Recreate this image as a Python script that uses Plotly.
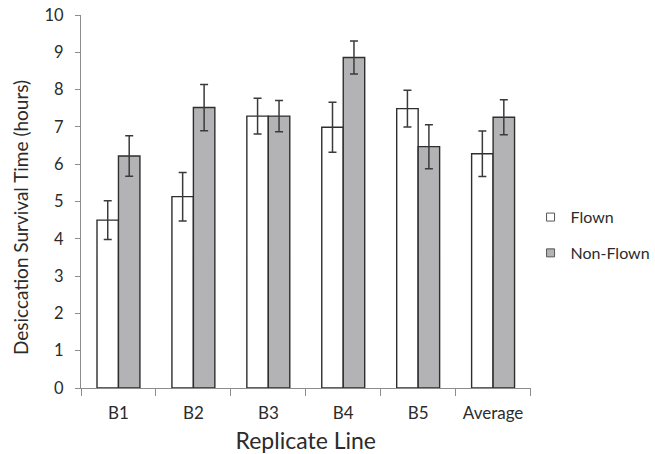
import plotly.graph_objects as go

# Replicate lines and mean desiccation survival time (hours) with error bars
categories = ["B1", "B2", "B3", "B4", "B5", "Average"]
flown = [4.50, 5.13, 7.29, 6.99, 7.49, 6.28]
flown_err = [0.52, 0.65, 0.48, 0.67, 0.49, 0.61]
non_flown = [6.22, 7.52, 7.29, 8.86, 6.47, 7.26]
non_flown_err = [0.54, 0.62, 0.42, 0.44, 0.59, 0.47]
y_ticks = list(range(0, 11))

FONT = "Lato, 'Open Sans', sans-serif"
TEXT = "#2b2b2b"
AXIS = "#8c8c8c"
EDGE = "#2e2e2e"
FLOWN_FILL = "white"
NONFLOWN_FILL = "#b3b3b5"

err_style = dict(type="data", thickness=1.5, width=4, color="#3a3a3a")

fig = go.Figure()
fig.add_trace(go.Bar(
    x=categories, y=flown, name="Flown", showlegend=False,
    marker=dict(color=FLOWN_FILL, line=dict(color=EDGE, width=1.4)),
    error_y=dict(array=flown_err, **err_style),
))
fig.add_trace(go.Bar(
    x=categories, y=non_flown, name="Non-Flown", showlegend=False,
    marker=dict(color=NONFLOWN_FILL, line=dict(color=EDGE, width=1.4)),
    error_y=dict(array=non_flown_err, **err_style),
))

# Small square legend keys
for name, fill, grp in [("Flown", FLOWN_FILL, "f"), ("Non-Flown", NONFLOWN_FILL, "n")]:
    fig.add_trace(go.Scatter(
        x=[None], y=[None], mode="markers", name=name, legendgroup=grp,
        marker=dict(symbol="square", size=8, color=fill, line=dict(color="#555555", width=1)),
    ))

fig.update_layout(
    width=655, height=454,
    margin=dict(l=81, r=103, t=15, b=66),
    paper_bgcolor="white", plot_bgcolor="white",
    barmode="group", bargap=0.427, bargroupgap=0,
    font=dict(family=FONT, color=TEXT, size=16),
    legend=dict(
        xref="container", yref="container",
        x=0.81, xanchor="left", y=0.482, yanchor="middle",
        traceorder="grouped", tracegroupgap=12,
        font=dict(size=16, color=TEXT), itemwidth=30,
    ),
    xaxis=dict(
        automargin=False,
        showline=True, linecolor=AXIS, linewidth=1,
        ticks="outside", tickson="boundaries", ticklen=7, tickcolor=AXIS,
        tickfont=dict(size=17, color=TEXT), ticklabelstandoff=10,
        title=dict(text="Replicate Line", font=dict(size=23, color=TEXT), standoff=12),
    ),
    yaxis=dict(
        automargin=False,
        range=[0, 10], tickvals=y_ticks, showgrid=False, zeroline=False,
        showline=True, linecolor=AXIS, linewidth=1,
        ticks="outside", ticklen=5, tickcolor=AXIS,
        tickfont=dict(size=16.5, color=TEXT), ticklabelstandoff=8,
    ),
    annotations=[dict(
        text="Desiccation Survival Time (hours)", textangle=-90,
        xref="paper", yref="paper", x=-0.136, y=0.458,
        xanchor="center", yanchor="middle", showarrow=False,
        font=dict(size=19, color=TEXT),
    )],
)

fig.write_html("out.html")
